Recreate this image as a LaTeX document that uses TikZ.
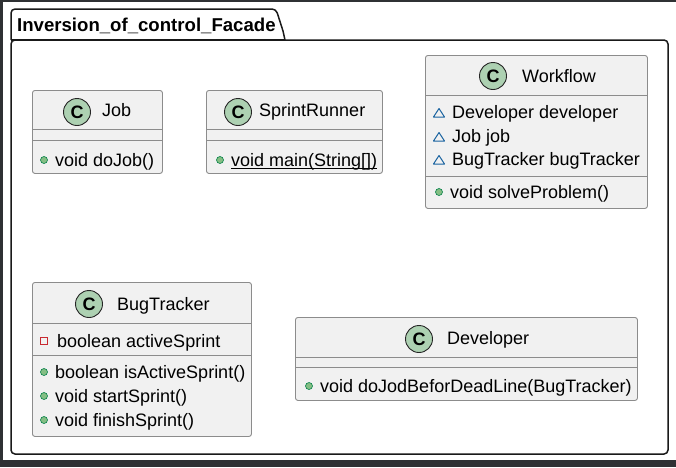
\documentclass[tikz,border=0pt]{standalone}
\usepackage{fontspec}
\setmainfont{Liberation Sans}
\definecolor{darkframe}{HTML}{2F3134}
\definecolor{boxfill}{HTML}{F1F1F1}
\definecolor{boxline}{HTML}{8C8C8C}
\definecolor{cgreen}{HTML}{ADD1B2}
\definecolor{pubfill}{HTML}{84BE84}
\definecolor{pubdraw}{HTML}{038048}
\definecolor{pkgblue}{HTML}{1963A0}
\definecolor{privred}{HTML}{C82930}
\begin{document}
\begin{tikzpicture}[x=1pt,y=-1pt,
  classbox/.style={draw=boxline, fill=boxfill, rounded corners=2.5pt, line width=0.9pt, inner sep=0pt, anchor=north west},
  divider/.style={draw=boxline, line width=0.9pt},
  cicon/.style={circle, draw=black!85, fill=cgreen, minimum size=27pt, inner sep=0pt, line width=0.9pt, font=\fontsize{18}{20}\selectfont\bfseries},
  txt/.style={anchor=base west, inner sep=0pt, font=\fontsize{18}{21}\selectfont},
  ttl/.style={anchor=base west, inner sep=0pt, font=\fontsize{18.6}{21}\selectfont\bfseries},
  pubdot/.style={circle, draw=pubdraw, fill=pubfill, minimum size=7pt, inner sep=0pt, line width=0.6pt},
  pkgtri/.style={draw=pkgblue, line width=1pt, fill=none, line join=round},
  privsq/.style={draw=privred, line width=1pt, fill=none},
  pkgframe/.style={draw=black!90, line width=1.5pt}
]
\useasboundingbox (0,0) rectangle (676,467);
\fill[darkframe] (0,0) rectangle (676,467);
\fill[white] (3,2) rectangle (676,460);

% package frame
\draw[pkgframe, rounded corners=4pt] (11,40) rectangle (668,454);
\draw[pkgframe, line join=round] (11,40) [rounded corners=4pt] -- (11,9) -- (276,9) [sharp corners] -- (283,31) -- (285,40);
\draw[pkgframe] (11,40) -- (285,40);
\node[ttl] (title) at (17,31) {Inversion\_of\_control\_Facade};

% Job
\node[classbox, minimum width=130pt, minimum height=83pt] (job) at (32,90) {};
\draw[divider] (32,129) -- (162,129);
\draw[divider] (32,140) -- (162,140);
\node[cicon] (jobc) at (77,112) {C};
\node[txt] (jobn) at (102,116.7) {Job};
\node[pubdot] (jobm1d) at (44,160) {};
\node[txt] (jobm1) at (55,166) {void doJob()};

% SprintRunner
\node[classbox, minimum width=176pt, minimum height=83pt] (sr) at (206,90) {};
\draw[divider] (206,129) -- (382,129);
\draw[divider] (206,140) -- (382,140);
\node[cicon] (src) at (238,112) {C};
\node[txt] (srn) at (259,116.7) {SprintRunner};
\node[pubdot] (srm1d) at (220,160) {};
\node[txt] (srm1) at (231,166) {void main(String[])};
\draw[line width=0.9pt] (srm1.base west) ++(0,2) -- (srm1.base east |- 0,168);

% Workflow
\node[classbox, minimum width=222pt, minimum height=153pt] (wf) at (425,55) {};
\draw[divider] (425,95) -- (647,95);
\draw[divider] (425,176) -- (647,176);
\node[cicon] (wfc) at (493,76) {C};
\node[txt] (wfn) at (522,82) {Workflow};
\draw[pkgtri] (433.5,117) -- (444.5,117) -- (439,108.5) -- cycle;
\node[txt] (wfa1) at (452,118) {Developer developer};
\draw[pkgtri] (433.5,141) -- (444.5,141) -- (439,132.5) -- cycle;
\node[txt] (wfa2) at (452,142) {Job job};
\draw[pkgtri] (433.5,164) -- (444.5,164) -- (439,155.5) -- cycle;
\node[txt] (wfa3) at (452,165) {BugTracker bugTracker};
\node[pubdot] (wfm1d) at (439,192) {};
\node[txt] (wfm1) at (450,198) {void solveProblem()};

% BugTracker
\node[classbox, minimum width=219pt, minimum height=154pt] (bt) at (32,282) {};
\draw[divider] (32,323) -- (251,323);
\draw[divider] (32,355) -- (251,355);
\node[cicon] (btc) at (89,304) {C};
\node[txt] (btn) at (117,310) {BugTracker};
\draw[privsq] (40.5,337) rectangle (47.5,344);
\node[txt] (bta1) at (57,347) {boolean activeSprint};
\node[pubdot] (btm1d) at (44,372) {};
\node[txt] (btm1) at (55,378) {boolean isActiveSprint()};
\node[pubdot] (btm2d) at (44,396) {};
\node[txt] (btm2) at (55,402) {void startSprint()};
\node[pubdot] (btm3d) at (44,420) {};
\node[txt] (btm3) at (55,426) {void finishSprint()};

% Developer
\node[classbox, minimum width=342pt, minimum height=83pt] (dev) at (295,317) {};
\draw[divider] (295,357) -- (637,357);
\draw[divider] (295,367) -- (637,367);
\node[cicon] (devc) at (419,339) {C};
\node[txt] (devn) at (447,344) {Developer};
\node[pubdot] (devm1d) at (309,386) {};
\node[txt] (devm1) at (320,392) {void doJodBeforDeadLine(BugTracker)};
\end{tikzpicture}
\end{document}
